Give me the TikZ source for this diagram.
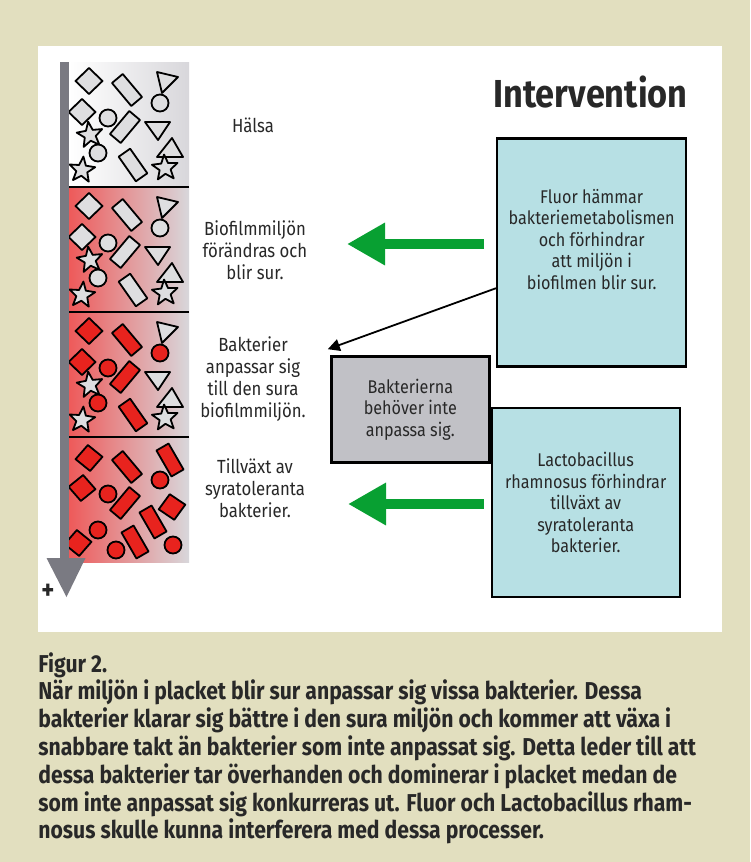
\documentclass[tikz,border=0pt]{standalone}
\usepackage{fontspec}
\setmainfont{Fira Sans}[FakeStretch=0.88]
\newfontfamily\capfont{Fira Sans}[FakeStretch=0.868]
\usetikzlibrary{arrows.meta, positioning, calc}
\definecolor{pagebeige}{RGB}{226,223,191}
\definecolor{boxblue}{RGB}{183,224,228}
\definecolor{boxgrey}{RGB}{193,193,198}
\definecolor{shaftgrey}{RGB}{122,122,130}
\definecolor{cellgrey}{RGB}{222,222,224}
\definecolor{cellred}{RGB}{232,35,30}
\definecolor{bandred}{RGB}{238,90,90}
\definecolor{bandpink}{RGB}{244,178,182}
\definecolor{bandgrey}{RGB}{216,215,219}
\definecolor{arrowgreen}{RGB}{8,160,50}
\definecolor{inktext}{RGB}{40,40,40}

\tikzset{
  cell/.style={draw=black, line width=0.9pt, line join=round},
  dia/.pic={\draw[cell, fill=#1] (-13.5,0) -- (0,-13) -- (13.5,0) -- (0,13) -- cycle;},
  rod/.pic={\draw[cell, fill=#1] (-15,-7) -- (15,-7) -- (15,7) -- (-15,7) -- cycle;},
  blob/.pic={\draw[cell, fill=#1] (0,0) circle (8.5);},
  star/.pic={\draw[cell, fill=#1] (-90:13.5)
      \foreach \a in {0,72,...,288} {-- (\a-54:5.8) -- (\a-18:13.5)} -- cycle;}
}

\newcommand{\mixband}[3]{%
  \begin{scope}[shift={(72,#1)}]
    \pic at (17,19) {dia=#2};
    \pic[rotate=-50] at (55,28) {rod=#2};
    \draw[cell, fill=#3] (85,10) -- (106,15) -- (90,31) -- cycle;
    \pic at (88,41) {blob=#2};
    \pic at (10,50) {dia=#2};
    \pic at (36,56) {blob=#2};
    \pic[rotate=50] at (53,65) {rod=#2};
    \draw[cell, fill=#3] (73,60) -- (98,60) -- (86,78) -- cycle;
    \pic[rotate=8] at (18,73) {star=#3};
    \pic at (26,91) {blob=#2};
    \draw[cell, fill=#3] (85,95) -- (111,95) -- (100,76) -- cycle;
    \pic[rotate=-55] at (61,103) {rod=#2};
    \pic[rotate=-6] at (10,108) {star=#3};
    \pic[rotate=4] at (93,106) {star=#3};
  \end{scope}}

\begin{document}
\begin{tikzpicture}[
    x=0.5pt, y=-0.5pt,
    lbl/.style={align=center, inner sep=0pt, text=inktext,
                font=\fontsize{9.5}{11}\selectfont},
    boxlbl/.style={align=center, inner sep=0pt, text=inktext,
                   font=\fontsize{9.2}{10.75}\selectfont},
    bluebox/.style={draw=black, line width=1.2pt, fill=boxblue,
                    minimum width=94.5pt, minimum height=114pt},
    greybox/.style={draw=black, line width=1.2pt, fill=boxgrey,
                    minimum width=79pt, minimum height=53pt},
    greenarrow/.style={arrowgreen, line width=5pt,
                       -{Triangle[length=19pt, width=20pt]}},
    pointer/.style={black, line width=0.9pt,
                    -{Triangle[length=6pt, width=6pt]}}
]
    \fill[pagebeige] (0,0) rectangle (750,862);
    \fill[white] (38,46) rectangle (722,632);

    % plaque column
    \shade[left color=white, right color=bandgrey] (69,62) rectangle (189,187);
    \foreach \top in {187,312,437}
        \shade[left color=bandred, middle color=bandpink, right color=bandgrey]
            (69,\top) rectangle (189,\top+125);

    \mixband{62}{cellgrey}{cellgrey}
    \mixband{187}{cellgrey}{cellgrey}
    \mixband{312}{cellred}{cellgrey}

    \begin{scope}[shift={(72,437)}]
        \pic[rotate=5] at (17,21) {dia=cellred};
        \pic[rotate=-50] at (55,30) {rod=cellred};
        \pic[rotate=-60] at (98,23) {rod=cellred};
        \pic at (88,43) {blob=cellred};
        \pic[rotate=-5] at (10,51) {dia=cellred};
        \pic at (36,57) {blob=cellred};
        \pic[rotate=50] at (53,66) {rod=cellred};
        \pic[rotate=10] at (100,70) {dia=cellred};
        \pic[rotate=-60] at (81,85) {rod=cellred};
        \pic at (26,93) {blob=cellred};
        \pic[rotate=5] at (6,106) {dia=cellred};
        \pic at (44,113) {blob=cellred};
        \pic[rotate=-60] at (63,105) {rod=cellred};
        \pic at (101,108) {blob=cellred};
    \end{scope}

    \foreach \top in {187,312,437}
        \draw[line width=1pt] (69,\top) -- (189,\top);

    \fill[shaftgrey] (60,62) rectangle (69,558);
    \fill[shaftgrey] (46.5,558) -- (85.5,558) -- (66.5,597) -- cycle;
    \node[font=\bfseries\fontsize{14}{16}\selectfont, text=inktext] (plus) at (48,592) {+};

    % stage labels
    \node[lbl] (halsa) at (253,125) {Hälsa};
    \node[lbl] (biofilm) at (255,250) {Biofilmmiljön\\förändras och\\blir sur.};
    \node[lbl] (adapt) at (253,379) {Bakterier\\anpassar sig\\till den sura\\biofilmmiljön.};
    \node[lbl] (growth) at (255,488) {Tillväxt av\\syratoleranta\\bakterier.};

    % interventions
    \node[anchor=base, inner sep=0pt, text=inktext,
          font=\bfseries\fontsize{19.5}{22}\selectfont] (title) at (590.5,107) {Intervention};
    \node[bluebox] (fluor) at (591.7,252.5) {};
    \node[boxlbl] (fluortxt) at ([yshift=6.5pt]fluor.center)
        {Fluor hämmar\\bakteriemetabolismen\\och förhindrar\\att miljön i\\biofilmen blir sur.};
    \node[bluebox, boxlbl, minimum width=94pt, minimum height=94.5pt,
          below=19.6pt of fluor, xshift=-3pt] (lacto)
        {Lactobacillus\\rhamnosus förhindrar\\tillväxt av\\syratoleranta\\bakterier.};
    \node[greybox, boxlbl, anchor=south east] (grey) at ($(lacto.north west)+(0,56.7)$)
        {Bakterierna\\behöver inte\\anpassa sig.};

    \coordinate (acidtip) at (347,244);
    \coordinate (growtip) at (348,504);
    \draw[greenarrow] ($(fluor.west |- acidtip)+(-12,0)$) -- (acidtip);
    \draw[greenarrow] ($(lacto.west |- growtip)+(-7,0)$) -- (growtip);
    \draw[pointer] ($(fluor.south west)!0.345!(fluor.north west)$)
        -- ([shift={(-1.15pt,3pt)}]grey.north west);

    % caption
    \node[anchor=north west, align=left, inner sep=0pt, text=inktext,
          font=\capfont\bfseries\fontsize{12.2}{13.9}\selectfont] (caption) at (38,652)
        {Figur 2.\\
         När miljön i placket blir sur anpassar sig vissa bakterier. Dessa\\
         bakterier klarar sig bättre i den sura miljön och kommer att växa i\\
         snabbare takt än bakterier som inte anpassat sig. Detta leder till att\\
         dessa bakterier tar överhanden och dominerar i placket medan de\\
         som inte anpassat sig konkurreras ut. Fluor och Lactobacillus rham-\\
         nosus skulle kunna interferera med dessa processer.};
\end{tikzpicture}
\end{document}
